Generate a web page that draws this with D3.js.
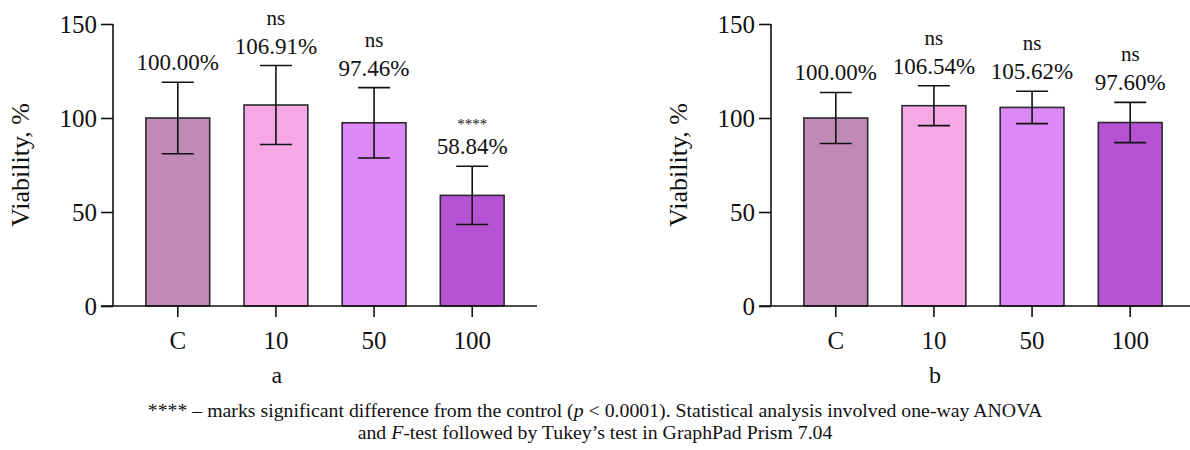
<!DOCTYPE html>
<html>
<head>
<meta charset="utf-8">
<script src="https://cdn.jsdelivr.net/npm/d3@7"></script>
<style>
	body { margin: 0; background: #fff; }
	svg text { font-family: "Liberation Serif", "Times New Roman", serif; fill: #111; }
</style>
</head>
<body>
<svg id="svg" width="1190" height="450"></svg>
<script>
var groups = ["C", "10", "50", "100"];
var colors = ["#c08ab7", "#f5a8e5", "#dc88f6", "#b653d5"];
var yTicks = [0, 50, 100, 150];

// panel a
var meansA = [100.00, 106.91, 97.46, 58.84];
var errA = [19.0, 21.0, 18.7, 15.5];
var sigA = ["", "ns", "ns", "****"];

// panel b
var meansB = [100.00, 106.54, 105.62, 97.60];
var errB = [13.6, 10.6, 8.6, 10.7];
var sigB = ["", "ns", "ns", "ns"];

var svg = d3.select("svg");

function panel(opts) {
	var g = svg.append("g");

	var y = d3.scaleLinear().domain([0, 150]).range([306, 24]);
	var x = d3.scaleBand()
		.domain(groups)
		.range([opts.x0, opts.x0 + 424])
		.paddingInner(0.35)
		.paddingOuter(0.335);

	var data = groups.map(function (d, i) {
		return { g: d, mean: opts.means[i], err: opts.err[i], sig: opts.sig[i], color: colors[i] };
	});

	// bars
	g.selectAll("rect.bar")
		.data(data)
		.enter().append("rect")
		.attr("class", "bar")
		.attr("x", function (d) { return x(d.g); })
		.attr("width", x.bandwidth())
		.attr("y", function (d) { return y(d.mean); })
		.attr("height", function (d) { return y(0) - y(d.mean); })
		.style("fill", function (d) { return d.color; })
		.style("stroke", "#2b2b2b")
		.style("stroke-width", "1.6px");

	// error bars
	var eb = g.selectAll("g.err")
		.data(data)
		.enter().append("g")
		.attr("class", "err")
		.style("stroke", "#111")
		.style("stroke-width", "1.6px");

	var cx = function (d) { return x(d.g) + x.bandwidth() / 2; };
	eb.append("line")
		.attr("x1", cx).attr("x2", cx)
		.attr("y1", function (d) { return y(d.mean + d.err); })
		.attr("y2", function (d) { return y(d.mean - d.err); });
	eb.append("line")
		.attr("x1", function (d) { return cx(d) - 16; })
		.attr("x2", function (d) { return cx(d) + 16; })
		.attr("y1", function (d) { return y(d.mean + d.err); })
		.attr("y2", function (d) { return y(d.mean + d.err); });
	eb.append("line")
		.attr("x1", function (d) { return cx(d) - 16; })
		.attr("x2", function (d) { return cx(d) + 16; })
		.attr("y1", function (d) { return y(d.mean - d.err); })
		.attr("y2", function (d) { return y(d.mean - d.err); });

	// value labels
	g.selectAll("text.val")
		.data(data)
		.enter().append("text")
		.attr("class", "val")
		.attr("x", cx)
		.attr("y", function (d) { return y(d.mean + d.err) - 12; })
		.attr("text-anchor", "middle")
		.style("font-size", "23px")
		.text(function (d) { return d.mean.toFixed(2) + "%"; });

	g.selectAll("text.sig")
		.data(data)
		.enter().append("text")
		.attr("class", "sig")
		.attr("x", cx)
		.attr("y", function (d) { return y(d.mean + d.err) - (d.sig == "****" ? 37 : 41); })
		.attr("text-anchor", "middle")
		.style("font-size", function (d) { return d.sig == "****" ? "15px" : "21px"; })
		.text(function (d) { return d.sig; });

	// axes
	var yAxis = d3.axisLeft(y).tickValues(yTicks).tickSize(12).tickPadding(4);
	var ya = g.append("g")
		.attr("transform", "translate(" + opts.x0 + ",0)")
		.call(yAxis);

	var xAxis = d3.axisBottom(x).tickSize(11).tickPadding(14);
	var xa = g.append("g")
		.attr("transform", "translate(0,306)")
		.call(xAxis);

	[ya, xa].forEach(function (a) {
		a.attr("font-family", null).attr("font-size", null);
		a.select(".domain").remove();
		a.selectAll("line").style("stroke", "#111").style("stroke-width", "1.6px");
		a.selectAll("text").style("font-size", "25px").style("fill", "#111");
	});

	g.append("line")
		.attr("x1", opts.x0).attr("x2", opts.x0)
		.attr("y1", y(150)).attr("y2", y(0))
		.style("stroke", "#111").style("stroke-width", "1.6px");
	g.append("line")
		.attr("x1", opts.x0 - 12).attr("x2", opts.x0 + 424)
		.attr("y1", y(0)).attr("y2", y(0))
		.style("stroke", "#111").style("stroke-width", "1.6px");

	// titles
	g.append("text")
		.attr("transform", "translate(" + (opts.x0 - 93) + ",165) rotate(-90)")
		.attr("text-anchor", "middle")
		.attr("dy", "0.35em")
		.style("font-size", "26px")
		.text("Viability, %");

	g.append("text")
		.attr("x", x("10") + x.bandwidth() / 2 + 1)
		.attr("y", 383)
		.attr("text-anchor", "middle")
		.style("font-size", "24px")
		.text(opts.letter);
}

panel({ x0: 113, means: meansA, err: errA, sig: sigA, letter: "a" });
panel({ x0: 771, means: meansB, err: errB, sig: sigB, letter: "b" });

// footnote
var note = svg.append("text")
	.attr("x", 595)
	.attr("y", 417)
	.attr("text-anchor", "middle")
	.style("font-size", "19.8px");
note.append("tspan").text("**** – marks significant difference from the control (");
note.append("tspan").style("font-style", "italic").text("p");
note.append("tspan").text(" < 0.0001). Statistical analysis involved one-way ANOVA");

var note2 = svg.append("text")
	.attr("x", 595)
	.attr("y", 439)
	.attr("text-anchor", "middle")
	.style("font-size", "19.8px");
note2.append("tspan").text("and ");
note2.append("tspan").style("font-style", "italic").text("F");
note2.append("tspan").text("-test followed by Tukey’s test in GraphPad Prism 7.04");
</script>
</body>
</html>
